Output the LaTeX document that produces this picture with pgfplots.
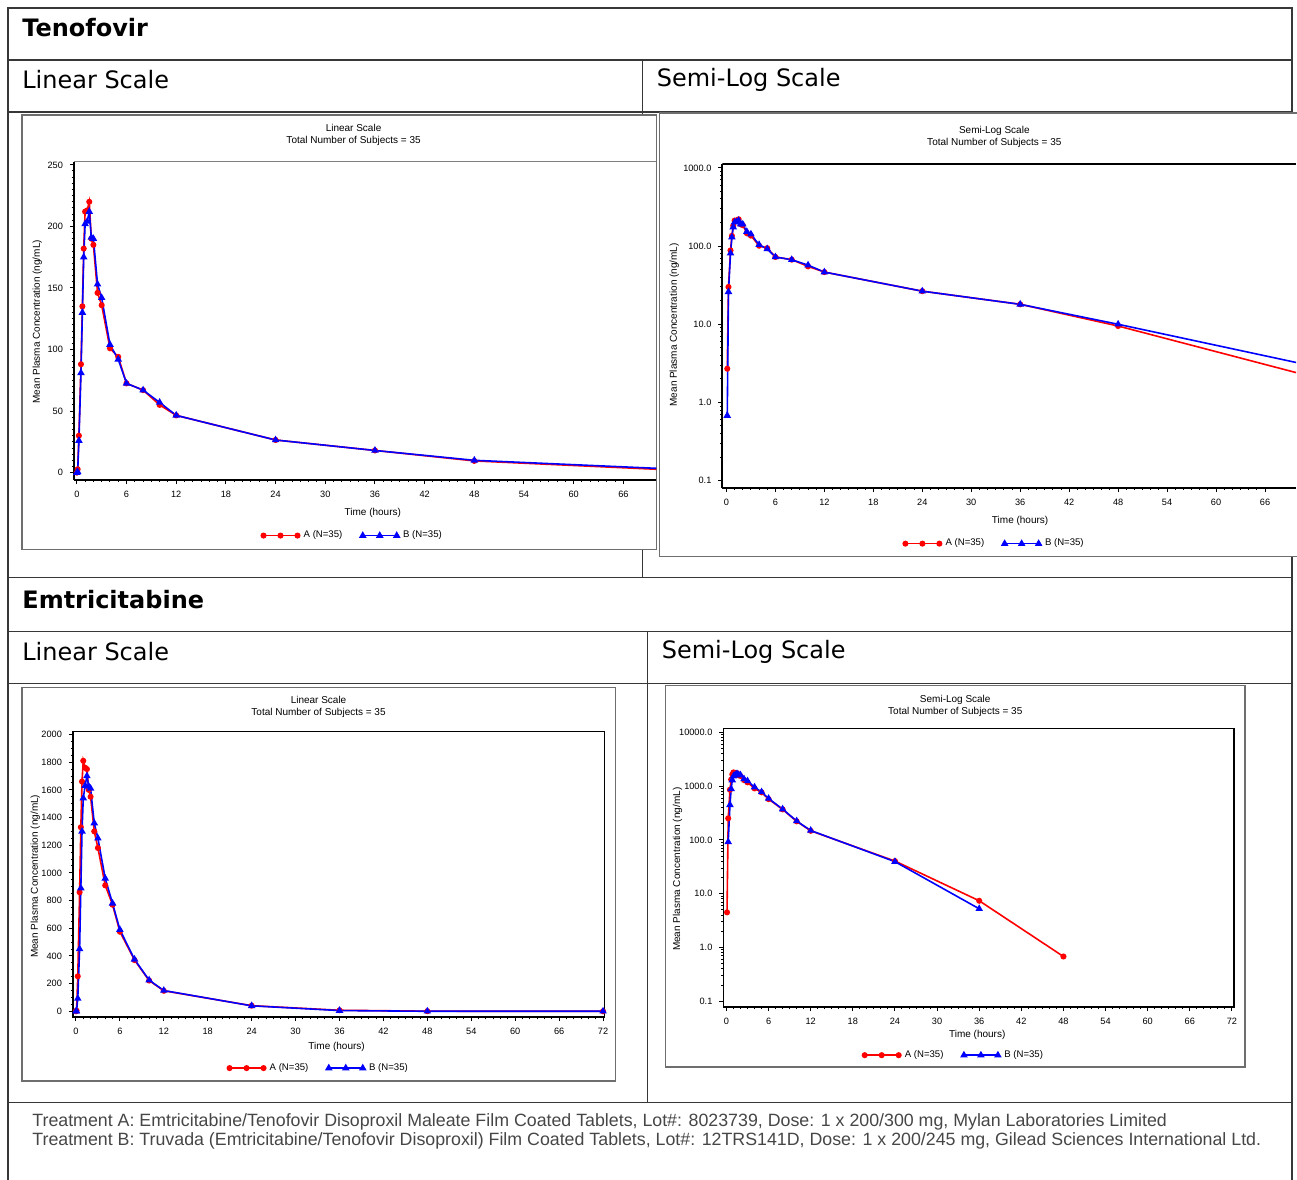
\documentclass[border=0pt]{standalone}
\usepackage{fontspec}
\setmainfont{Liberation Sans}
\newfontfamily\headfont{DejaVu Sans}
\usepackage{pgfplots}
\usepackage{pgfplotstable}
\pgfplotsset{compat=1.18}

\definecolor{serA}{RGB}{255,0,0}
\definecolor{serB}{RGB}{0,0,255}
\definecolor{rulegray}{RGB}{55,55,55}
\definecolor{framegray}{RGB}{110,110,110}
\definecolor{notegray}{RGB}{70,70,70}

% mean plasma concentration (ng/mL) vs time (h)
\pgfplotstableread{
t     A      B
0     0      0
0.1   2.7    0.68
0.25  30     26
0.5   88     81
0.67  135    130
0.83  182    175
1.0   212    202
1.25  213    204
1.5   220    212
1.75  190    191
2.0   185    190
2.5   146    153
3.0   136    142
4     101    104
5     94     92
6     72.5   72.5
8     67     67
10    55     57
12    46.5   46.5
24    26.5   26.5
36    18     18
48    9.5    10
72    2.1    2.9
}\tenofovir

\pgfplotstableread{
t     A      B
0     0      0
0.08  4.5    0
0.25  253    92
0.5   860    450
0.67  1330   890
0.83  1660   1300
1.0   1810   1540
1.25  1760   1630
1.5   1750   1700
1.75  1600   1625
2.0   1550   1610
2.5   1300   1360
3.0   1180   1250
4     910    960
5     770    780
6     575    590
8     370    375
10    222    225
12    148    150
24    40.5   39.5
36    7.4    5.25
48    0.68   0
72    0      0
}\emtricitabine

\pgfplotsset{
  pkplot/.style={
    scale only axis,
    anchor=south west,
    font=\fontsize{4.6}{5}\selectfont,
    /pgf/number format/assume math mode=true,
    /pgf/number format/1000 sep={},
    scaled y ticks=false,
    tick align=outside,
    tick pos=left,
    major tick length=2pt,
    minor tick length=1.1pt,
    every tick/.style={black, line width=0.5pt},
    minor x tick num=5,
    every axis title/.style={font=\fontsize{5}{6}\selectfont, align=center, anchor=center},
    label style={font=\fontsize{5}{6}\selectfont},
    xlabel={Time (hours)},
    ylabel={Mean Plasma Concentration (ng/mL)},
    legend columns=2,
    legend cell align=left,
    legend style={draw=none, fill=none, anchor=center,
      font=\fontsize{4.8}{5}\selectfont,
      /tikz/every even column/.append style={column sep=7pt}},
    legend image code/.code={\draw[mark repeat=1] plot coordinates {(0pt,0pt) (8.5pt,0pt) (17pt,0pt)};},
    axis line style={line width=0.6pt},
  },
  serA/.style={color=serA, line width=0.8pt, mark=*, mark size=1.1pt},
  serB/.style={color=serB, line width=0.8pt, mark=triangle*, mark size=1.4pt},
}

\begin{document}
\begin{tikzpicture}
\begin{scope}[x=0.5pt,y=0.5pt]
\useasboundingbox (0,0) rectangle (1297,-1180);
% table rules
\draw[rulegray, line width=0.6pt] (8,-1185) -- (8,-8) -- (1293,-8) -- (1293,-1185);
\draw[rulegray, line width=0.6pt] (8,-60) -- (1293,-60) (8,-112) -- (1293,-112)
  (8,-578) -- (1293,-578) (8,-632) -- (1293,-632) (8,-684) -- (1293,-684)
  (8,-1103) -- (1293,-1103);
\draw[rulegray, line width=0.6pt] (643,-60) -- (643,-578) (648,-632) -- (648,-1103);
% row headings
\node[anchor=west, inner sep=0pt, font=\headfont\bfseries\fontsize{12}{14}\selectfont] at (22,-28) {Tenofovir};
\node[anchor=west, inner sep=0pt, font=\headfont\fontsize{12}{14}\selectfont] at (22,-80) {Linear Scale};
\node[anchor=west, inner sep=0pt, font=\headfont\fontsize{12}{14}\selectfont] at (657,-80) {Semi-Log Scale};
\node[anchor=west, inner sep=0pt, font=\headfont\bfseries\fontsize{12}{14}\selectfont] at (22,-600) {Emtricitabine};
\node[anchor=west, inner sep=0pt, font=\headfont\fontsize{12}{14}\selectfont] at (22,-652) {Linear Scale};
\node[anchor=west, inner sep=0pt, font=\headfont\fontsize{12}{14}\selectfont] at (662,-652) {Semi-Log Scale};
% figure frames
\draw[framegray, line width=0.7pt, fill=white] (22,-115) rectangle (657,-550);
\draw[framegray, line width=0.7pt, fill=white] (660,-113) rectangle (1299,-557);
\draw[framegray, line width=0.7pt, fill=white] (22,-688) rectangle (616,-1082);
\draw[framegray, line width=0.7pt, fill=white] (666,-686) rectangle (1246,-1068);
% footnote
\node[anchor=west, inner sep=0pt, text=notegray, font=\fontsize{8.9}{10}\selectfont] at (32,-1123)
  {Treatment A: Emtricitabine/Tenofovir Disoproxil Maleate Film Coated Tablets, Lot\#: 8023739, Dose: 1 x 200/300 mg, Mylan Laboratories Limited};
\node[anchor=west, inner sep=0pt, text=notegray, font=\fontsize{8.9}{10}\selectfont] at (32,-1142)
  {Treatment B: Truvada (Emtricitabine/Tenofovir Disoproxil) Film Coated Tablets, Lot\#: 12TRS141D, Dose: 1 x 200/245 mg, Gilead Sciences International Ltd.};
\end{scope}

% Tenofovir, linear
\begin{axis}[pkplot, at={(37pt,-240pt)}, width=291.5pt, height=159pt,
  xmin=-0.35, xmax=70, ymin=-5.7, ymax=252.4,
  axis lines*=left, axis line style={line width=1pt},
  xtick={0,6,...,66}, ytick={0,50,...,250}, minor y tick num=9,
  title={Linear Scale\\Total Number of Subjects = 35},
  title style={at={(axis description cs:0.48,1.085)}},
  xlabel style={at={(axis description cs:0.513,-0.104)}, anchor=center},
  ylabel style={at={(axis description cs:-0.063,0.497)}, anchor=center},
  legend style={at={(0.48,-0.176)}},
]
\addplot[serA] table[x=t,y=A]{\tenofovir}; \addlegendentry{A (N=35)}
\addplot[serB] table[x=t,y=B]{\tenofovir}; \addlegendentry{B (N=35)}
\draw[gray, line width=0.4pt] (rel axis cs:0,1) -- (rel axis cs:1,1);
\end{axis}

% Tenofovir, semi-log
\begin{axis}[pkplot, ymode=log, at={(361.5pt,-244pt)}, width=287pt, height=162pt,
  xmin=-0.49, xmax=69.8, ymin=0.0814, ymax=1125,
  axis lines*=left, axis line style={line width=1pt},
  xtick={0,6,...,66}, ytick={0.1,1,10,100,1000},
  yticklabels={0.1,1.0,10.0,100.0,1000.0},
  title={Semi-Log Scale\\Total Number of Subjects = 35},
  title style={at={(axis description cs:0.474,1.083)}},
  xlabel style={at={(axis description cs:0.519,-0.102)}, anchor=center},
  ylabel style={at={(axis description cs:-0.084,0.503)}, anchor=center},
  legend style={at={(0.476,-0.173)}},
]
\addplot[serA] table[x=t,y=A]{\tenofovir}; \addlegendentry{A (N=35)}
\addplot[serB] table[x=t,y=B]{\tenofovir}; \addlegendentry{B (N=35)}
\draw[black, line width=1pt] (rel axis cs:0,1) -- (rel axis cs:1,1);
\end{axis}

% Emtricitabine, linear
\begin{axis}[pkplot, at={(36.5pt,-509pt)}, width=266pt, height=143pt,
  xmin=-0.41, xmax=72.2, ymin=-43, ymax=2022,
  xtick={0,6,...,72}, ytick={0,200,...,2000}, minor y tick num=3,
  title={Linear Scale\\Total Number of Subjects = 35},
  title style={at={(axis description cs:0.462,1.086)}},
  xlabel style={at={(axis description cs:0.496,-0.105)}, anchor=center},
  ylabel style={at={(axis description cs:-0.071,0.493)}, anchor=center},
  legend style={at={(0.464,-0.178)}},
]
\addplot[serA] table[x=t,y=A]{\emtricitabine}; \addlegendentry{A (N=35)}
\addplot[serB] table[x=t,y=B]{\emtricitabine}; \addlegendentry{B (N=35)}
\draw[black, line width=1pt] (rel axis cs:0,1) -- (rel axis cs:0,0) -- (rel axis cs:1,0);
\end{axis}

% Emtricitabine, semi-log
\begin{axis}[pkplot, ymode=log, at={(362pt,-504pt)}, width=255.5pt, height=139.5pt,
  xmin=-0.43, xmax=72.3, ymin=0.0774, ymax=11870,
  xtick={0,6,...,72}, ytick={0.1,1,10,100,1000,10000},
  yticklabels={0.1,1.0,10.0,100.0,1000.0,10000.0},
  title={Semi-Log Scale\\Total Number of Subjects = 35},
  title style={at={(axis description cs:0.454,1.081)}},
  xlabel style={at={(axis description cs:0.497,-0.100)}, anchor=center},
  ylabel style={at={(axis description cs:-0.09,0.495)}, anchor=center},
  legend style={at={(0.453,-0.172)}},
]
\addplot[serA] table[x=t,y=A]{\emtricitabine}; \addlegendentry{A (N=35)}
\addplot[serB] table[x=t,y=B]{\emtricitabine}; \addlegendentry{B (N=35)}
\draw[black, line width=1pt] (rel axis cs:1,1) -- (rel axis cs:0,1) -- (rel axis cs:0,0) -- (rel axis cs:1,0);
\end{axis}
\end{tikzpicture}
\end{document}
